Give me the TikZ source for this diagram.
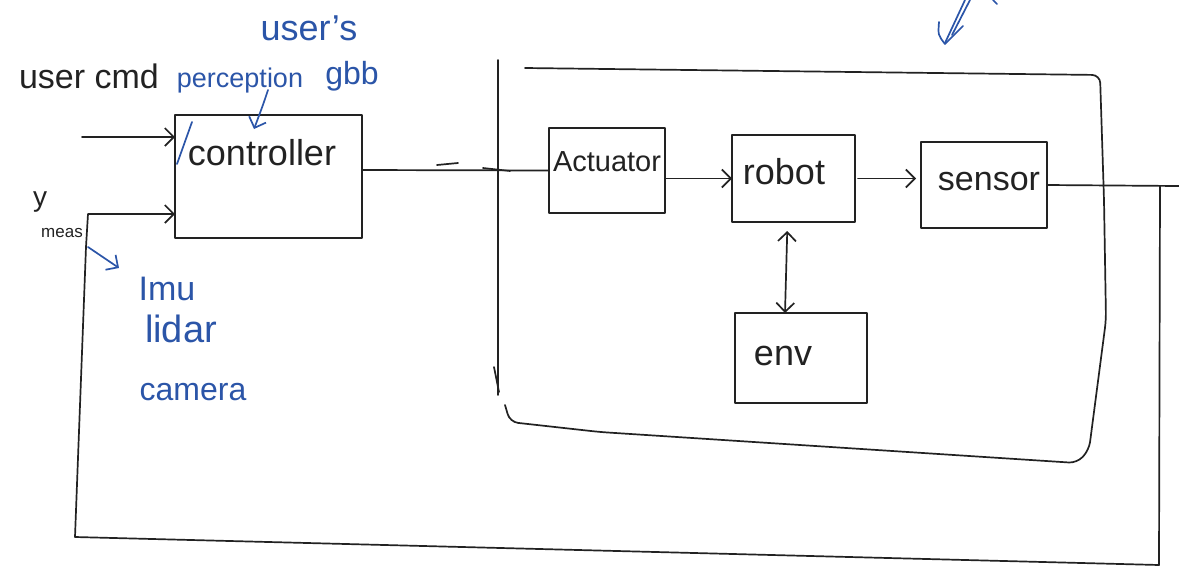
\documentclass[tikz,border=0pt]{standalone}
\usepackage{fontspec}
\setmainfont{Liberation Sans}
\usetikzlibrary{arrows.meta}
\definecolor{ink}{HTML}{222222}
\definecolor{pen}{HTML}{2B55A8}
\newcommand\hfs[1]{\fontsize{#1}{#1}\selectfont}
\begin{document}
\begin{tikzpicture}[x=1pt,y=-1pt,
  stroke/.style={draw=ink,line width=1.7pt,line cap=round,line join=round},
  bluestroke/.style={draw=pen,line width=1.7pt,line cap=round,line join=round},
  block/.style={stroke,rectangle,inner sep=0pt,outer sep=0pt},
  lbl/.style={text=ink,inner sep=0pt},
  note/.style={text=pen,inner sep=0pt},
  tip/.style={-{Straight Barb[length=9pt,width=18pt]}},
  twotip/.style={{Straight Barb[length=9pt,width=18pt]}-{Straight Barb[length=9pt,width=18pt]}},
]
\useasboundingbox (0,0) rectangle (1179,574);

% --- blocks ---
\node[block,minimum width=187pt,minimum height=123pt] (ctrl)   at (268.5,176.5) {};
\node[block,minimum width=116pt,minimum height=85pt]  (act)    at (607,170.5) {};
\node[block,minimum width=123pt,minimum height=87pt]  (robot)  at (793.5,178.5) {};
\node[block,minimum width=126pt,minimum height=86pt]  (sensor) at (984,185) {};
\node[block,minimum width=132pt,minimum height=90pt]  (env)    at (801,358) {};

% --- block labels ---
\node[lbl,font=\hfs{36}] (ctrl-t)   at (262,153) {controller};
\node[lbl,font=\hfs{29}] (act-t)    at (607,162) {Actuator};
\node[lbl,font=\hfs{36}] (robot-t)  at (784,172) {robot};
\node[lbl,font=\hfs{34}] (sensor-t) at (989,182) {sensor};
\node[lbl,font=\hfs{36}] (env-t)    at (783,356) {env};

% --- signal labels ---
\node[lbl,font=\hfs{34}] (cmd-t)  at (89,76) {user cmd};
\node[lbl,font=\hfs{28}] (y-t)    at (40,202) {y};
\node[lbl,font=\hfs{17}] (meas-t) at (62,233) {meas};

% --- annotations ---
\node[note,font=\hfs{36}] (users-t) at (309,28) {user's};
\node[note,font=\hfs{27}] (perc-t)  at (240,81) {perception};
\node[note,font=\hfs{32}] (gbb-t)   at (352,76) {gbb};
\node[note,font=\hfs{34}] (imu-t)   at (167,289) {Imu};
\node[note,font=\hfs{38}] (lidar-t) at (181,329) {lidar};
\node[note,font=\hfs{32}] (cam-t)   at (193,392) {camera};

% --- plant boundary ---
\draw[stroke] (498,60) -- (498,395);
\draw[stroke] (494,367) -- (499,392);
\draw[stroke,rounded corners=8pt] (525,68) -- (1100,75) -- (1104,200) -- (1106,320)
  -- (1089,450) -- (1077,463) -- (600,432) -- (510,422) -- (505,405);

% --- forward path ---
\coordinate (cmdin) at (82,137);
\draw[stroke,tip] (cmdin) -- (cmdin -| ctrl.west);
\draw[stroke] ([yshift=6.5pt]ctrl.east) -- (act.west);
\draw[stroke] (437,165) -- (458,163);
\draw[stroke] (483,168) -- (510,171);
\draw[stroke,tip] (robot.west -| act.east) -- (robot.west);
\draw[stroke,tip] ([xshift=3pt]robot.east) -- ([xshift=-5pt]sensor.west |- robot.east);
\draw[stroke,twotip,shorten <=9pt] ([xshift=-6pt]robot.south) -- ([xshift=-16pt]env.north);

% --- feedback path ---
\coordinate (edge)    at (1179,186);
\coordinate (fbtop)   at (1160,186);
\coordinate (fbr)     at (1159,565);
\coordinate (fbl)     at (75,537);
\coordinate (ycorner) at (86,247);
\coordinate (ystart)  at (88,214);
\draw[stroke] (sensor.east) -- (edge);
\draw[stroke,tip] (fbtop) -- (fbr) -- (fbl) -- (ycorner) -- (ystart) -- (ystart -| ctrl.west);

% --- blue pen marks ---
\coordinate (percfrom) at (268,90);
\coordinate (percto)   at (254,129);
\draw[bluestroke,tip] (percfrom) .. controls (263,105) .. (percto);
\draw[bluestroke] (192,122) -- (177,164);
\coordinate (sensfrom) at (88,247);
\coordinate (sensto)   at (119,268);
\draw[bluestroke,tip] (sensfrom) -- (sensto);
\draw[bluestroke] (965,0) -- (945,43);
\draw[bluestroke] (970,0) -- (952,35);
\draw[bluestroke] (939,22) .. controls (938,35) .. (945,44) -- (963,26);
\draw[bluestroke] (993,0) -- (997,4);
\end{tikzpicture}
\end{document}
